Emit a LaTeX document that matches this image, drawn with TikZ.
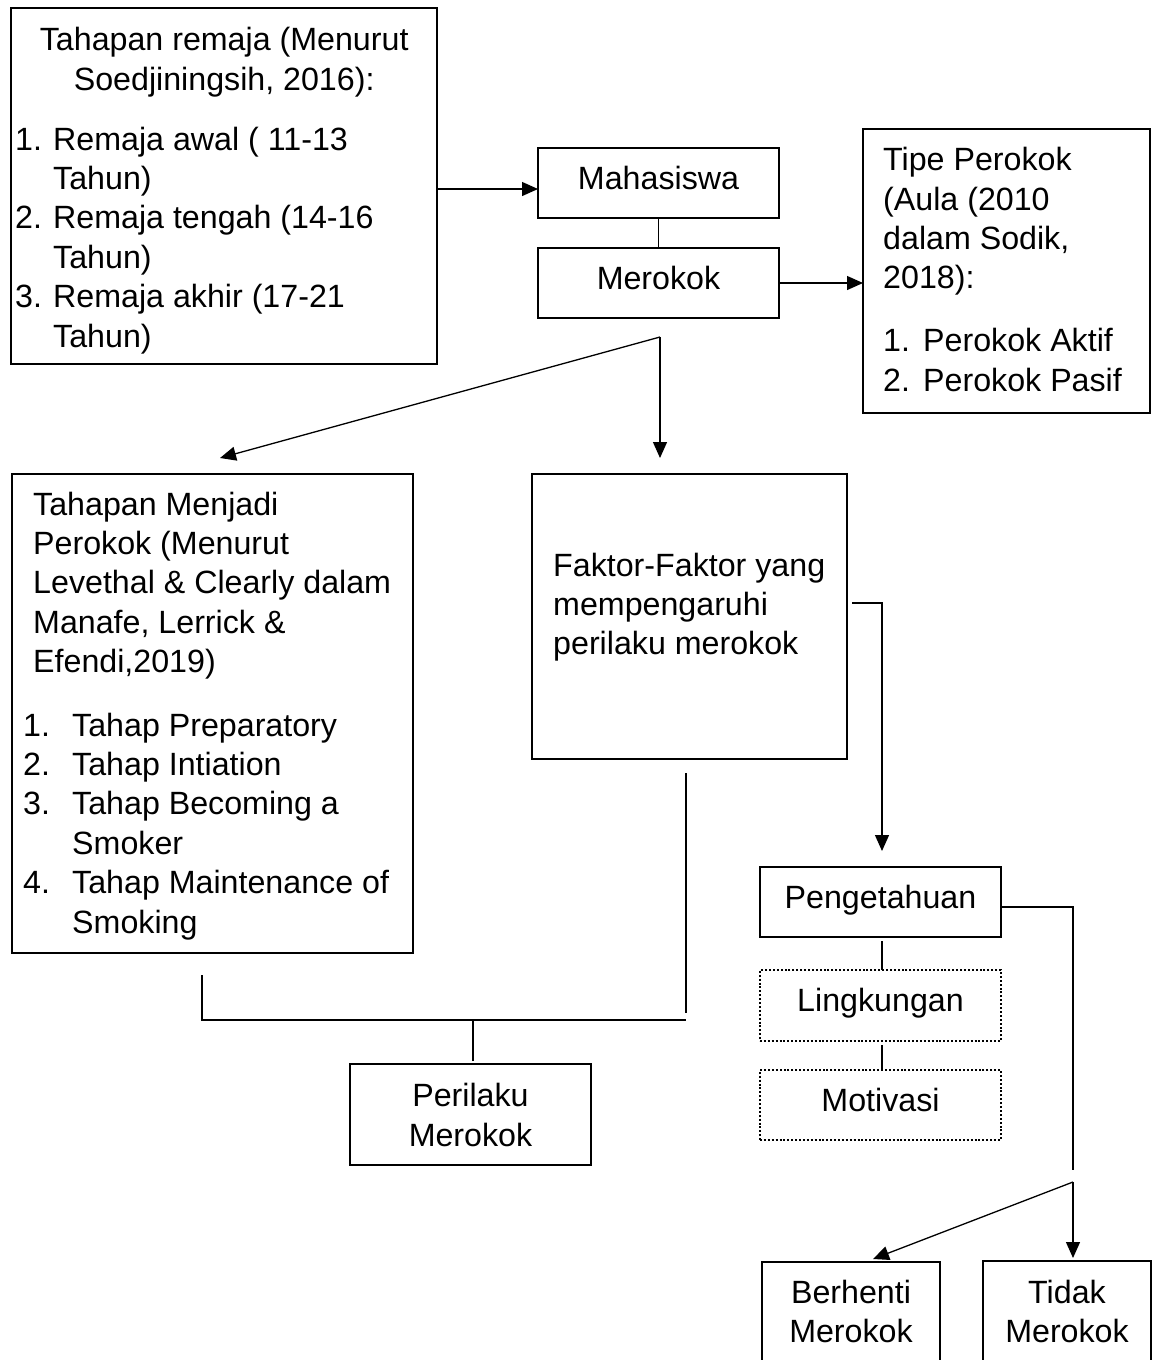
\documentclass[tikz,border=0pt]{standalone}
\usepackage{fontspec}
\setmainfont{Liberation Sans}
\usetikzlibrary{arrows.meta,calc}
\begin{document}
\begin{tikzpicture}[x=1pt,y=-1pt,
  every node/.style={font=\fontsize{32.2}{39.4}\selectfont},
  box/.style={draw,line width=2.6pt,inner sep=0pt,outer sep=0pt,anchor=north west,text height=22pt,text depth=10pt},
  dotbox/.style={box,line width=2.4pt,dash pattern=on 2pt off 1.9pt},
  conn/.style={line width=1.3pt},
  arr/.style={conn,-{Triangle[length=16pt,width=14pt]}},
  txt/.style={inner sep=0pt,anchor=base west},
  ctxt/.style={inner sep=0pt,anchor=base}]
\clip (0,0) rectangle (1158,1360);
\fill[white] (0,0) rectangle (1158,1360);
% boxes
\node[box,minimum width=426pt,minimum height=356pt] (A) at (11,8) {};
\node[box,minimum width=241pt,minimum height=70pt] (Mah) at (538,148) {Mahasiswa};
\node[box,minimum width=241pt,minimum height=70pt] (Mer) at (538,248) {Merokok};
\node[box,minimum width=287pt,minimum height=284pt] (Tipe) at (863,129) {};
\node[box,minimum width=401pt,minimum height=479pt] (B) at (12,474) {};
\node[box,minimum width=315pt,minimum height=285pt] (C) at (532,474) {};
\node[box,minimum width=241pt,minimum height=70pt] (Peng) at (760,867) {Pengetahuan};
\node[dotbox,minimum width=241pt,minimum height=71pt] (Ling) at (760,970) {Lingkungan};
\node[dotbox,minimum width=241pt,minimum height=70pt] (Mot) at (760,1070) {Motivasi};
\node[box,minimum width=241pt,minimum height=101pt] (Peri) at (350,1064) {};
\node[box,minimum width=178pt,minimum height=130pt] (Berh) at (762,1262) {};
\node[box,minimum width=168pt,minimum height=130pt] (Tidak) at (983,1261) {};
% texts
\node[txt] (tA1) at (11,50.7) {\parbox[t]{426pt}{\centering Tahapan remaja (Menurut\\Soedjiningsih, 2016):}};
\node[txt] (tA2) at (15,150) {\parbox[t]{420pt}{\makebox[38pt][l]{1.}Remaja awal ( 11-13\\\hspace*{38pt}Tahun)\\\makebox[38pt][l]{2.}Remaja tengah (14-16\\\hspace*{38pt}Tahun)\\\makebox[38pt][l]{3.}Remaja akhir (17-21\\\hspace*{38pt}Tahun)}};
\node[txt] (tT1) at (883,170.7) {\parbox[t]{280pt}{Tipe Perokok\\(Aula (2010\\dalam Sodik,\\2018):}};
\node[txt] (tT2) at (883,351.7) {\parbox[t]{280pt}{\makebox[40pt][l]{1.}Perokok Aktif\\\makebox[40pt][l]{2.}Perokok Pasif}};
\node[txt] (tB1) at (33,515) {\parbox[t]{380pt}{Tahapan Menjadi\\Perokok (Menurut\\Levethal \& Clearly dalam\\Manafe, Lerrick \&\\Efendi,2019)}};
\node[txt] (tB2) at (23,736) {\parbox[t]{390pt}{\makebox[49pt][l]{1.}Tahap Preparatory\\\makebox[49pt][l]{2.}Tahap Intiation\\\makebox[49pt][l]{3.}Tahap Becoming a\\\hspace*{49pt}Smoker\\\makebox[49pt][l]{4.}Tahap Maintenance of\\\hspace*{49pt}Smoking}};
\node[txt] (tC) at (553,576) {\parbox[t]{290pt}{Faktor-Faktor yang\\mempengaruhi\\perilaku merokok}};
\node[ctxt] (tP) at (470.5,1106.7) {\parbox[t]{230pt}{\centering Perilaku\\Merokok}};
\node[ctxt] (tBe) at (851,1303) {\parbox[t]{170pt}{\centering Berhenti\\Merokok}};
\node[ctxt] (tTi) at (1067,1303) {\parbox[t]{160pt}{\centering Tidak\\Merokok}};
% connectors
\draw[arr] ($(A.east |- Mah.west)+(0,6)$) -- ($(Mah.west)+(0,6)$);
\draw[conn] (Mah.south) -- (Mer.north);
\draw[arr] (Mer.east) -- (Mer.east -| Tipe.west);
\coordinate (s1) at ($(Mer.south)+(1.5,19)$);
\coordinate (e1) at (660,458);
\coordinate (e2) at (220,458);
\draw[arr] (s1) -- (e1);
\draw[arr] (s1) -- (e2);
\draw[arr] ($(C.east)+(5,-13.5)$) -| ($(Peng.north)+(1.5,-16)$);
\coordinate (j1) at (1073,1170);
\coordinate (j2) at (1073,1182);
\draw[conn] ($(Peng.east)+(0,5)$) -| (j1);
\draw[arr] (j2) -- ($(j2 |- Tidak.north)+(0,-3)$);
\draw[arr] (j2) -- ($(Berh.north)+(22,-3)$);
\draw[conn] ($(Peng.south)+(1.5,4)$) -- ($(Ling.north)+(1.5,0)$);
\draw[conn] ($(Ling.south)+(1.5,4)$) -- ($(Mot.north)+(1.5,0)$);
\coordinate (b1) at (202,975);
\coordinate (b2) at (686,1020);
\coordinate (c1) at (686,773);
\coordinate (c2) at (686,1013);
\draw[conn] (b1) |- (b2);
\draw[conn] (c1) -- (c2);
\draw[conn] ($(Peri.north)+(2.5,-3)$) -- ($(Peri.north)+(2.5,-44)$);
\end{tikzpicture}
\end{document}
